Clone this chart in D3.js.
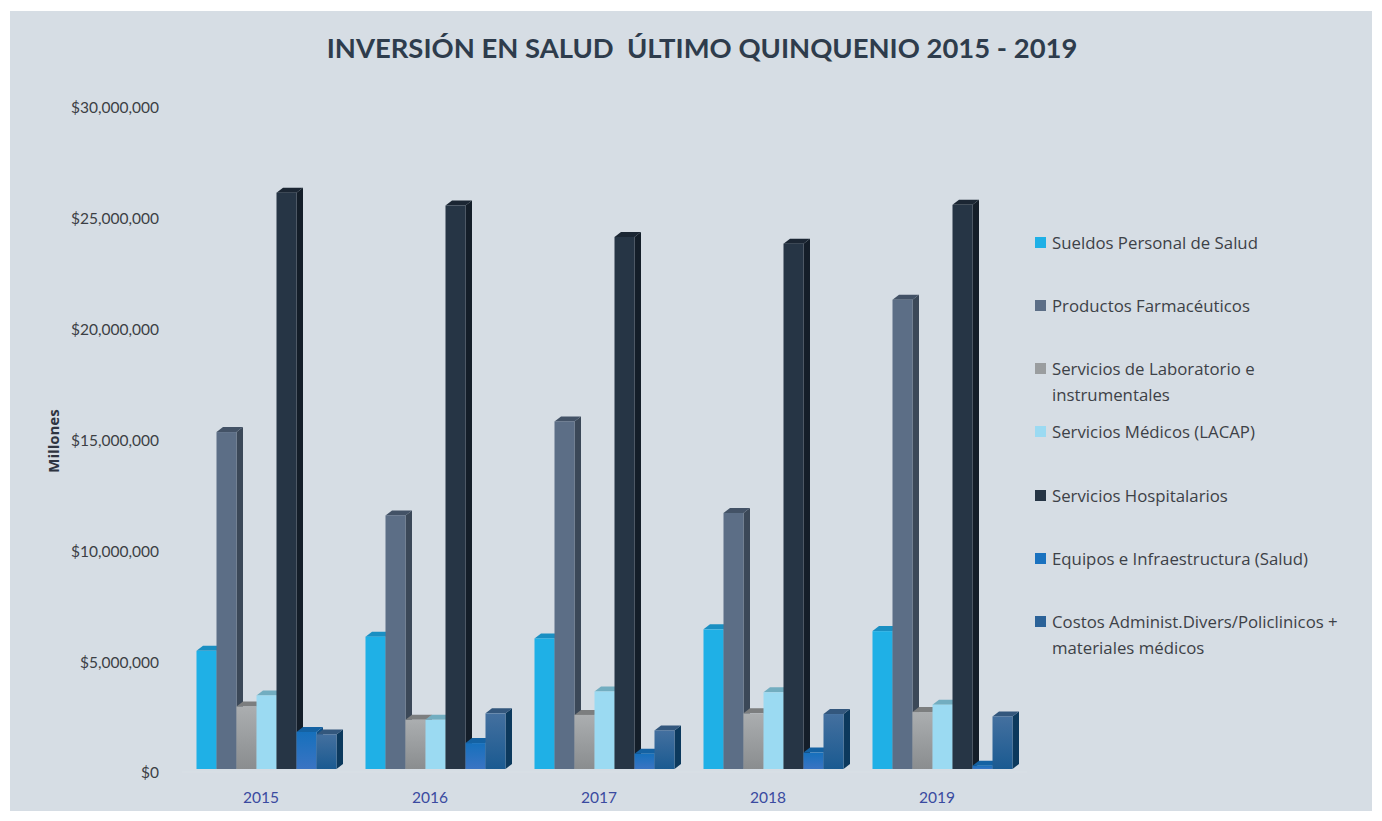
<!DOCTYPE html>
<html lang="es">
<head>
<meta charset="utf-8">
<title>Inversión en Salud 2015 - 2019</title>
<script src="https://cdn.jsdelivr.net/npm/d3@7"></script>
<style>
  html, body { margin: 0; padding: 0; background: #ffffff; }
  svg { display: block; }
</style>
</head>
<body>
<svg id="chart" width="1382" height="821"></svg>
<script>
// ---- Data (USD) ----
const years = ["2015", "2016", "2017", "2018", "2019"];
const seriesNames = [
  "Sueldos Personal de Salud",
  "Productos Farmacéuticos",
  "Servicios de Laboratorio e instrumentales",
  "Servicios Médicos (LACAP)",
  "Servicios Hospitalarios",
  "Equipos e Infraestructura (Salud)",
  "Costos Administ.Divers/Policlinicos + materiales médicos"
];
const sueldos       = [5330000, 5970000, 5890000, 6300000, 6220000];
const productos     = [15200000, 11440000, 15680000, 11550000, 21170000];
const laboratorio   = [2820000, 2220000, 2440000, 2510000, 2570000];
const medicos       = [3320000, 2220000, 3500000, 3460000, 2900000];
const hospitalarios = [26000000, 25420000, 24000000, 23700000, 25450000];
const equipos       = [1670000, 1170000, 690000, 740000, 150000];
const costos        = [1560000, 2510000, 1740000, 2480000, 2370000];
const yTicks = [0, 5000000, 10000000, 15000000, 20000000, 25000000, 30000000];

const seriesValues = [sueldos, productos, laboratorio, medicos, hospitalarios, equipos, costos];

// ---- Styles per series: front fill, side, top ----
const styles = [
  { front: "#1fb0e6", side: "#1788b5", top: "#1a8fc2", legend: "#1fb0e6" },
  { front: "#5c6e86", side: "#3b4858", top: "#435266", legend: "#5c6e86" },
  { front: "url(#gLab)", side: "#6f7274", top: "#7c7e7f", legend: "#9a9d9f" },
  { front: "#9bdaf2", side: "#6fb0c6", top: "#72adc0", legend: "#9bdaf2" },
  { front: "#263545", side: "#141e29", top: "#1b2633", legend: "#263545" },
  { front: "url(#gEq)", side: "#0f4f86", top: "#1462a3", legend: "#1a72bf" },
  { front: "url(#gCo)", side: "#0c395d", top: "#33577d", legend: "#2b6298" }
];

const W = 1382, H = 821;
const FONT = "'Open Sans', Lato, sans-serif";
const svg = d3.select("#chart");

// gradients
const defs = svg.append("defs");
function vGrad(id, stops) {
  const g = defs.append("linearGradient").attr("id", id)
    .attr("x1", 0).attr("y1", 0).attr("x2", 0).attr("y2", 1);
  stops.forEach(([o, c]) => g.append("stop").attr("offset", o).attr("stop-color", c));
}
vGrad("gLab", [[0, "#abaeb0"], [1, "#8a8d8f"]]);
vGrad("gEq", [[0, "#1670bc"], [1, "#3a74c3"]]);
vGrad("gCo", [[0, "#44709f"], [1, "#1a5a91"]]);

// panel background
svg.append("rect").attr("x", 10).attr("y", 11).attr("width", W - 20).attr("height", H - 21)
  .attr("fill", "#d6dde4");

// title
const title = svg.append("text")
  .attr("x", 702).attr("y", 58)
  .attr("text-anchor", "middle")
  .attr("font-family", "Lato, 'Open Sans', sans-serif")
  .attr("font-weight", "bold")
  .attr("font-size", 30)
  .attr("fill", "#2e3c4c")
  .attr("xml:space", "preserve")
  .text("INVERSIÓN EN SALUD  ÚLTIMO QUINQUENIO 2015 - 2019");
// fit title to its box width
(function fit() {
  const target = 751;
  const len = title.node().getComputedTextLength();
  if (len > 0) title.attr("font-size", 30 * target / len);
})();

// ---- Scales ----
const plotLeft = 182, plotRight = 1027;
const baseY = 769;
const x = d3.scaleBand().domain(years).range([plotLeft, plotRight]).padding(0);
const groupW = 140;
const xs = d3.scaleBand().domain(d3.range(seriesNames.length)).range([0, groupW]).padding(0);
const y = d3.scaleLinear().domain([0, 30000000]).range([baseY, baseY - 665]);

const DX = 6.5, DY = -5; // depth of the 3D boxes

// floor outline (very faint)
svg.append("path")
  .attr("d", `M${plotLeft},${baseY + 3} L${plotRight},${baseY + 3}`)
  .attr("fill", "none").attr("stroke", "#d9e0e6").attr("stroke-width", 1);

// ---- Y axis (labels only) ----
const yAxis = d3.axisLeft(y).tickValues(yTicks)
  .tickFormat(d => "$" + d3.format(",")(d)).tickSize(0).tickPadding(0);
const yG = svg.append("g").attr("transform", "translate(159,4)").call(yAxis);
yG.select(".domain").remove();
yG.selectAll("text")
  .attr("font-family", "Lato, 'Open Sans', sans-serif")
  .attr("font-size", 15.5).attr("fill", "#3c3f44");

svg.append("text")
  .attr("transform", "translate(59,441) rotate(-90)")
  .attr("text-anchor", "middle")
  .attr("font-family", FONT)
  .attr("font-weight", "bold").attr("font-size", 15)
  .attr("fill", "#2e3440")
  .text("Millones");

// ---- X axis labels ----
const xAxis = d3.axisBottom(x).tickSize(0).tickPadding(0);
const xG = svg.append("g").attr("transform", `translate(-5.5,${baseY + 34})`).call(xAxis);
xG.select(".domain").remove();
xG.selectAll("text")
  .attr("font-family", "Lato, 'Open Sans', sans-serif")
  .attr("font-size", 15.5).attr("fill", "#3a4aa0").attr("dy", 0);

// ---- Bars ----
const barsG = svg.append("g");
years.forEach((yr, yi) => {
  const gx = x(yr) + (x.bandwidth() - groupW) / 2;
  seriesValues.forEach((vals, si) => {
    const v = vals[yi];
    const x0 = gx + xs(si), w = xs.bandwidth();
    const yt = y(v), yb = y(0);
    const st = styles[si];
    const g = barsG.append("g");
    // side face
    g.append("path")
      .attr("d", `M${x0 + w},${yt} L${x0 + w + DX},${yt + DY} L${x0 + w + DX},${yb + DY} L${x0 + w},${yb} Z`)
      .attr("fill", st.side);
    // top face
    g.append("path")
      .attr("d", `M${x0},${yt} L${x0 + DX},${yt + DY} L${x0 + w + DX},${yt + DY} L${x0 + w},${yt} Z`)
      .attr("fill", st.top);
    // front face
    g.append("rect")
      .attr("x", x0).attr("y", yt).attr("width", w).attr("height", Math.max(0.5, yb - yt))
      .attr("fill", st.front);
  });
});

// ---- Legend ----
const legendRows = [
  { lines: ["Sueldos Personal de Salud"], y: 243 },
  { lines: ["Productos Farmacéuticos"], y: 306 },
  { lines: ["Servicios de Laboratorio e", "instrumentales"], y: 369 },
  { lines: ["Servicios Médicos (LACAP)"], y: 432 },
  { lines: ["Servicios Hospitalarios"], y: 496 },
  { lines: ["Equipos e Infraestructura (Salud)"], y: 559 },
  { lines: ["Costos Administ.Divers/Policlinicos +", "materiales médicos"], y: 622 }
];
const legend = svg.append("g");
legendRows.forEach((row, i) => {
  legend.append("rect")
    .attr("x", 1035).attr("y", row.y - 6).attr("width", 11).attr("height", 11)
    .attr("fill", styles[i].legend);
  const t = legend.append("text")
    .attr("x", 1052).attr("y", row.y + 6)
    .attr("font-family", FONT)
    .attr("font-size", 16.8).attr("fill", "#3d4147");
  row.lines.forEach((ln, li) => {
    t.append("tspan").attr("x", 1052).attr("dy", li === 0 ? 0 : 26).text(ln);
  });
});
</script>
</body>
</html>
